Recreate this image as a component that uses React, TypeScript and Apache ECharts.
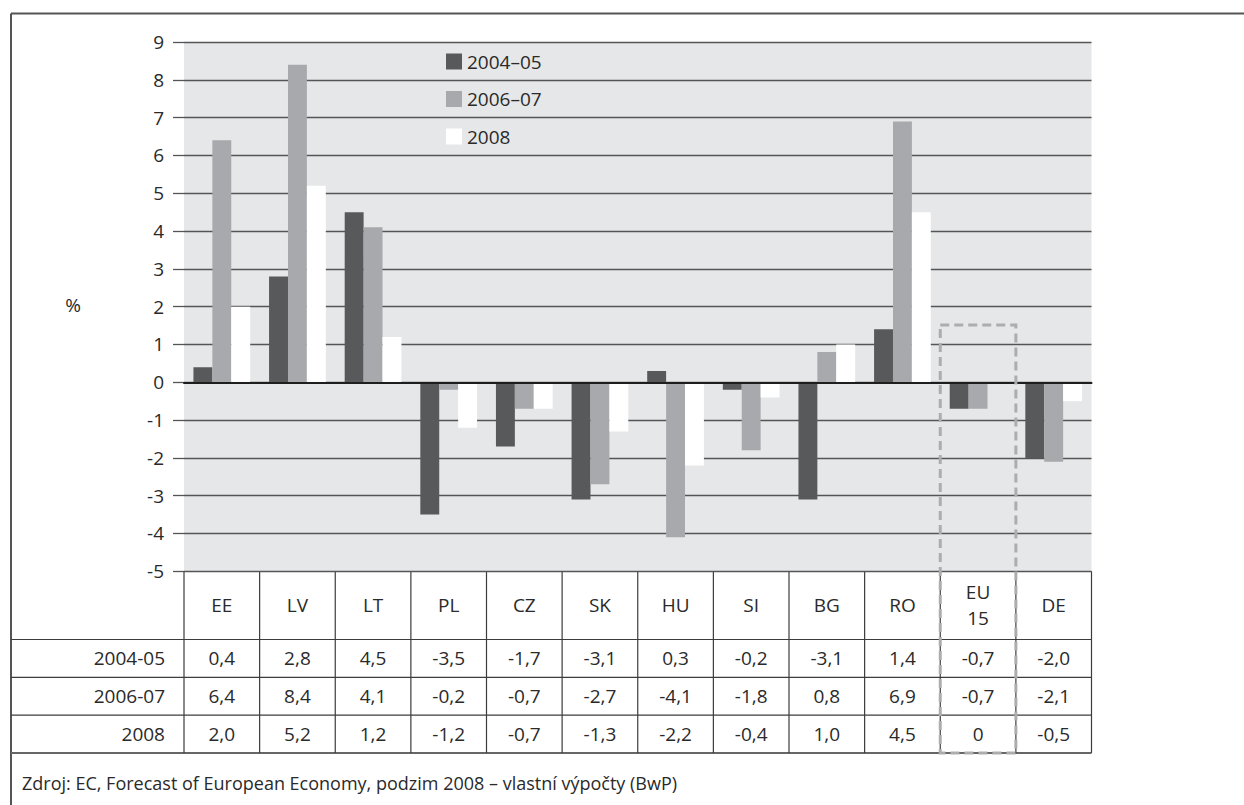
import React, { useEffect, useRef } from "react";
import * as echarts from "echarts";

// Country groups on the category axis
const categories = ["EE", "LV", "LT", "PL", "CZ", "SK", "HU", "SI", "BG", "RO", "EU\n15", "DE"];
// Legend names and matching row labels of the data table
const seriesNames = ["2004–05", "2006–07", "2008"];
const rowLabels = ["2004-05", "2006-07", "2008"];
// Values in %
const values0405 = [0.4, 2.8, 4.5, -3.5, -1.7, -3.1, 0.3, -0.2, -3.1, 1.4, -0.7, -2.0];
const values0607 = [6.4, 8.4, 4.1, -0.2, -0.7, -2.7, -4.1, -1.8, 0.8, 6.9, -0.7, -2.1];
const values2008 = [2.0, 5.2, 1.2, -1.2, -0.7, -1.3, -2.2, -0.4, 1.0, 4.5, 0, -0.5];
const seriesValues = [values0405, values0607, values2008];
// Value axis range
const yMin = -5;
const yMax = 9;
const yStep = 1;
const highlighted = "EU\n15";
const sourceNote = "Zdroj: EC, Forecast of European Economy, podzim 2008 – vlastní výpočty (BwP)";

const W = 1244;
const H = 805;
const FONT = "'Open Sans', 'Noto Sans', sans-serif";
const TEXT = "#2a2a2a";
const LINE = "#3c3c3c";
const colors = ["#58595b", "#a7a9ac", "#ffffff"];

// Plot layout
const gridLeft = 184;
const gridRightX = 1091.5;
const gridTop = 42;
const gridBottomY = 571.3;
const frameX = 11;
const frameY = 13.5;
const headerBottom = 639.5;
const rowH = 37.8;

const fmt = (v: number) => (v === 0 ? "0" : v.toFixed(1).replace(".", ","));

export default function App() {
  const ref = useRef<HTMLDivElement>(null);

  useEffect(() => {
    const chart = echarts.init(ref.current!, undefined, { renderer: "svg" });
    const colW = (gridRightX - gridLeft) / categories.length;
    const tableBottom = headerBottom + rowH * rowLabels.length;

    const g: any[] = [];
    // Outer frame (top and left edges)
    g.push({ type: "line", shape: { x1: frameX, y1: frameY, x2: W, y2: frameY }, style: { stroke: "#555", lineWidth: 2 } });
    g.push({ type: "line", shape: { x1: frameX, y1: frameY, x2: frameX, y2: H }, style: { stroke: "#555", lineWidth: 2 } });
    // Axis unit
    g.push({ type: "text", x: 73, y: 305, style: { text: "%", font: `19px ${FONT}`, fill: TEXT, align: "center", verticalAlign: "middle" } });

    // Data table: horizontal rules
    for (let r = 0; r <= rowLabels.length; r++) {
      const y = headerBottom + r * rowH;
      g.push({ type: "line", shape: { x1: frameX, y1: y, x2: gridRightX, y2: y }, style: { stroke: r === rowLabels.length ? "#666" : LINE, lineWidth: r === rowLabels.length ? 2 : 1.2 } });
    }
    // Data table: column rules
    for (let c = 0; c <= categories.length; c++) {
      const x = gridLeft + c * colW;
      g.push({ type: "line", shape: { x1: x, y1: gridBottomY, x2: x, y2: tableBottom }, style: { stroke: LINE, lineWidth: 1.2 } });
    }
    // Category headers
    categories.forEach((cat, i) => {
      g.push({
        type: "text",
        x: gridLeft + (i + 0.5) * colW,
        y: (gridBottomY + headerBottom) / 2,
        style: { text: cat, font: `19px ${FONT}`, fill: TEXT, align: "center", verticalAlign: "middle", lineHeight: 26 },
      });
    });
    // Row labels and values
    rowLabels.forEach((lab, r) => {
      const cy = headerBottom + (r + 0.5) * rowH;
      g.push({ type: "text", x: 165, y: cy, style: { text: lab, font: `19px ${FONT}`, fill: TEXT, align: "right", verticalAlign: "middle" } });
      seriesValues[r].forEach((v, i) => {
        g.push({
          type: "text",
          x: gridLeft + (i + 0.5) * colW,
          y: cy,
          style: { text: fmt(v), font: `19px ${FONT}`, fill: TEXT, align: "center", verticalAlign: "middle" },
        });
      });
    });
    // Dashed highlight around the EU 15 column
    const hi = categories.indexOf(highlighted);
    g.push({
      type: "rect",
      z: 100,
      shape: { x: gridLeft + hi * colW, y: 325, width: colW, height: tableBottom - 325 },
      style: { fill: "none", stroke: "#adadad", lineWidth: 3, lineDash: [9, 5] },
    });
    // Source note
    g.push({ type: "text", x: 22, y: 783, style: { text: sourceNote, font: `18px ${FONT}`, fill: TEXT, align: "left", verticalAlign: "middle" } });

    chart.setOption({
      animation: false,
      textStyle: { fontFamily: FONT },
      grid: {
        left: gridLeft,
        right: W - gridRightX,
        top: gridTop,
        bottom: H - gridBottomY,
        show: true,
        backgroundColor: "#e6e7e8",
        borderWidth: 0,
      },
      legend: {
        orient: "vertical",
        left: 441,
        top: 47,
        itemWidth: 16,
        itemHeight: 16,
        itemGap: 18.5,
        icon: "rect",
        data: seriesNames,
        textStyle: { fontSize: 19, color: TEXT, fontFamily: FONT, lineHeight: 16, padding: [0, 0, 0, 0] },
        itemStyle: { borderWidth: 0 },
      },
      xAxis: {
        type: "category",
        data: categories,
        z: 5,
        axisLine: { onZero: true, lineStyle: { color: "#1e1e1e", width: 2 } },
        axisTick: { show: false },
        axisLabel: { show: false },
        splitLine: { show: false },
      },
      yAxis: {
        type: "value",
        min: yMin,
        max: yMax,
        interval: yStep,
        axisLine: { show: false },
        axisTick: { show: true, length: 11, lineStyle: { color: "#555", width: 1.3 } },
        axisLabel: { fontSize: 19, color: TEXT, margin: 20, fontFamily: FONT },
        splitLine: { show: true, lineStyle: { color: "#555", width: 1.3 } },
      },
      series: seriesNames.map((name, i) => ({
        name,
        type: "bar",
        data: seriesValues[i],
        barGap: "0%",
        barCategoryGap: "25%",
        itemStyle: { color: colors[i] },
      })),
      graphic: g,
    });

    return () => chart.dispose();
  }, []);

  return <div ref={ref} style={{ position: "fixed", left: 0, top: 0, width: W, height: H, background: "#fff" }} />;
}
